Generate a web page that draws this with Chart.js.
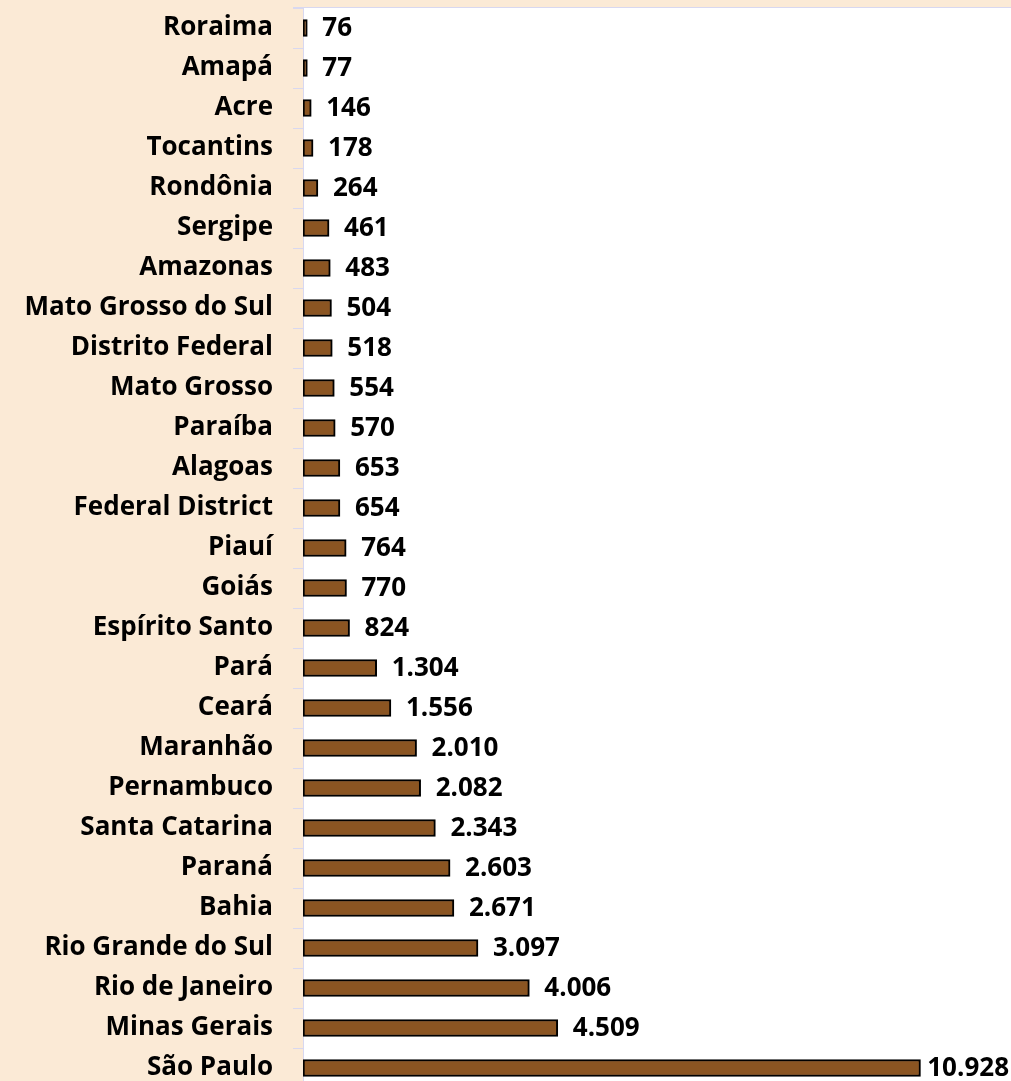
<!DOCTYPE html>
<html>
<head>
<meta charset="utf-8">
<script src="https://cdn.jsdelivr.net/npm/chart.js@4"></script>
<style>
  html, body { margin: 0; padding: 0; overflow: hidden; background: #FBEAD6; }
  #wrap { width: 1011px; height: 1088px; }
</style>
</head>
<body>
<div id="wrap"><canvas id="chart"></canvas></div>
<script>
const states = [
  'Roraima', 'Amapá', 'Acre', 'Tocantins', 'Rondônia', 'Sergipe', 'Amazonas',
  'Mato Grosso do Sul', 'Distrito Federal', 'Mato Grosso', 'Paraíba', 'Alagoas',
  'Federal District', 'Piauí', 'Goiás', 'Espírito Santo', 'Pará', 'Ceará',
  'Maranhão', 'Pernambuco', 'Santa Catarina', 'Paraná', 'Bahia',
  'Rio Grande do Sul', 'Rio de Janeiro', 'Minas Gerais', 'São Paulo'
];
const counts = [
  76, 77, 146, 178, 264, 461, 483, 504, 518, 554, 570, 653, 654, 764, 770, 824,
  1304, 1556, 2010, 2082, 2343, 2603, 2671, 3097, 4006, 4509, 10928
];

const BEIGE = '#FBEAD6';
const LINE = '#D8D8F0';
const FONT = '"Open Sans", Lato, sans-serif';

// 1.304 style thousands separator
function fmt(n) {
  return String(n).replace(/\B(?=(\d{3})+(?!\d))/g, '.');
}

const background = {
  id: 'background',
  beforeDraw(chart) {
    const { ctx, chartArea: a, width, height } = chart;
    ctx.save();
    ctx.fillStyle = BEIGE;
    ctx.fillRect(0, 0, width, height);
    ctx.fillStyle = '#ffffff';
    ctx.fillRect(a.left, a.top, width - a.left, height - a.top);
    ctx.strokeStyle = LINE;
    ctx.lineWidth = 1;
    ctx.beginPath();
    ctx.moveTo(a.left - 10, a.top - 0.5);
    ctx.lineTo(width, a.top - 0.5);
    ctx.stroke();
    ctx.restore();
  }
};

const valueLabels = {
  id: 'valueLabels',
  afterDatasetsDraw(chart) {
    const { ctx, width } = chart;
    const meta = chart.getDatasetMeta(0);
    ctx.save();
    ctx.font = 'bold 26px ' + FONT;
    ctx.fillStyle = '#000';
    ctx.textBaseline = 'middle';
    ctx.textAlign = 'left';
    meta.data.forEach((bar, i) => {
      const txt = fmt(counts[i]);
      const w = ctx.measureText(txt).width;
      let x = bar.x + 15;
      if (x + w > width - 2) x = width - 2 - w;
      ctx.fillText(txt, x, bar.y + 1);
    });
    ctx.restore();
  }
};

new Chart(document.getElementById('chart'), {
  type: 'bar',
  data: {
    labels: states,
    datasets: [{
      data: counts,
      backgroundColor: '#8B5522',
      borderColor: '#000000',
      borderWidth: 2,
      borderSkipped: false,
      barThickness: 17
    }]
  },
  options: {
    indexAxis: 'y',
    responsive: true,
    maintainAspectRatio: false,
    animation: false,
    layout: { padding: { top: 8, left: 0, right: 0, bottom: 0 } },
    plugins: {
      legend: { display: false },
      tooltip: { enabled: false }
    },
    scales: {
      x: {
        display: false,
        min: 0,
        max: 12530
      },
      y: {
        afterFit(scale) {
          scale.width = 303;
          scale.paddingTop = 0;
          scale.paddingBottom = 0;
        },
        border: { display: true, color: LINE, width: 1 },
        grid: {
          drawOnChartArea: false,
          drawTicks: true,
          tickLength: 10,
          color: LINE,
          offset: true
        },
        ticks: {
          padding: 20,
          color: '#000',
          font: { family: FONT, size: 26, weight: 'bold' }
        }
      }
    }
  },
  plugins: [background, valueLabels]
});
</script>
</body>
</html>
